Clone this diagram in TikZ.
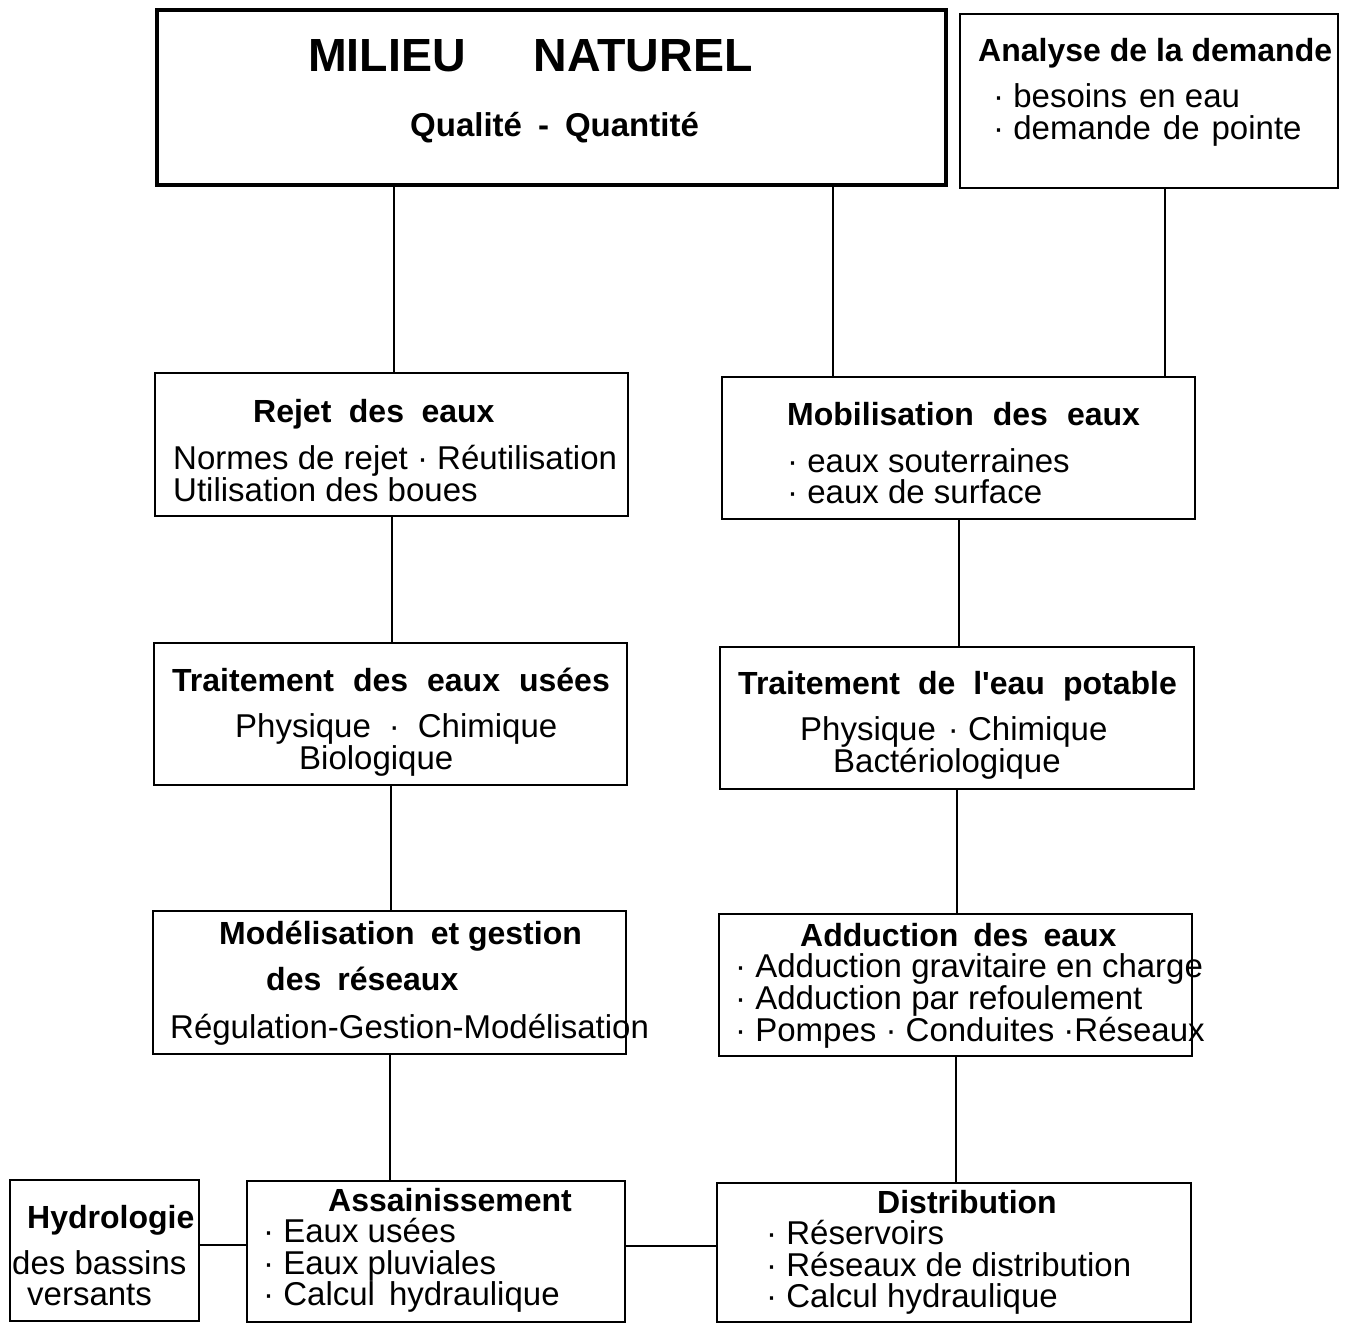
\documentclass[tikz,border=0pt]{standalone}
\usepackage{fontspec}
\setmainfont{Liberation Sans}[Ligatures=TeXOff]
\begin{document}
\begin{tikzpicture}[x=1pt,y=-1pt,
  box/.style={draw,rectangle,line width=2pt,inner sep=0pt},
  bigbox/.style={box,line width=4pt},
  txt/.style={anchor=base west,inner sep=0pt,font=\fontsize{33}{33}\selectfont},
  head/.style={anchor=base west,inner sep=0pt,font=\fontsize{32}{32}\selectfont\bfseries},
  link/.style={line width=2pt}]
\useasboundingbox[fill=white] (0,0) rectangle (1351,1324);
% boxes
\node[bigbox,minimum width=789pt,minimum height=175pt] (milieu) at (551.5,97.5) {};
\node[box,minimum width=378pt,minimum height=174pt] (analyse) at (1149,101) {};
\node[box,minimum width=473pt,minimum height=143pt] (rejet) at (391.5,444.5) {};
\node[box,minimum width=473pt,minimum height=142pt] (mob) at (958.5,448) {};
\node[box,minimum width=473pt,minimum height=142pt] (tusees) at (390.5,714) {};
\node[box,minimum width=474pt,minimum height=142pt] (tpot) at (957,718) {};
\node[box,minimum width=473pt,minimum height=143pt] (model) at (389.5,982.5) {};
\node[box,minimum width=473pt,minimum height=142pt] (adduc) at (955.5,985) {};
\node[box,minimum width=189pt,minimum height=141pt] (hydro) at (104.5,1250.5) {};
\node[box,minimum width=378pt,minimum height=141pt] (assain) at (436,1251.5) {};
\node[box,minimum width=474pt,minimum height=139pt] (distrib) at (954,1252.5) {};
% texts
\node[anchor=base west,inner sep=0pt,font=\fontsize{46.5}{46.5}\selectfont\bfseries] (t1) at (308,72) {MILIEU\hspace{68pt}NATUREL};
\node[head,font=\fontsize{33}{33}\selectfont\bfseries] (t2) at (410,137) {Qualité\hspace{16pt}-\hspace{16pt}Quantité};
\node[head] (a1) at (978,62) {Analyse de la demande};
\node[txt] (a2) at (993,108) {· besoins\hspace{12pt}en eau};
\node[txt] (a3) at (993,140) {· demande\hspace{12pt}de\hspace{12pt}pointe};
\node[head] (r1) at (253,422) {Rejet\hspace{17.5pt}des\hspace{17.5pt}eaux};
\node[txt] (r2) at (173,469) {Normes de rejet · Réutilisation};
\node[txt] (r3) at (173,501) {Utilisation des boues};
\node[head] (m1) at (787,425) {Mobilisation\hspace{19pt}des\hspace{19pt}eaux};
\node[txt] (m2) at (787,472) {· eaux souterraines};
\node[txt] (m3) at (787,503) {· eaux de surface};
\node[head] (u1) at (172,691) {Traitement\hspace{19pt}des\hspace{19pt}eaux\hspace{19pt}usées};
\node[txt] (u2) at (235,737) {Physique\hspace{18pt}·\hspace{18pt}Chimique};
\node[txt] (u3) at (299,769) {Biologique};
\node[head] (p1) at (738,694) {Traitement\hspace{18pt}de\hspace{18pt}l'eau\hspace{18pt}potable};
\node[txt] (p2) at (800,740) {Physique\hspace{12pt}· Chimique};
\node[txt] (p3) at (833,772) {Bactériologique};
\node[head] (g1) at (219,944) {Modélisation\hspace{16pt}et gestion};
\node[head] (g2) at (266,990) {des\hspace{16pt}réseaux};
\node[txt] (g3) at (170,1038) {Régulation-Gestion-Modélisation};
\node[head] (d1) at (800,946) {Adduction\hspace{15pt}des\hspace{15pt}eaux};
\node[txt] (d2) at (735,977) {· Adduction gravitaire en charge};
\node[txt] (d3) at (735,1009) {· Adduction par refoulement};
\node[txt] (d4) at (735,1041) {· Pompes · Conduites ·Réseaux};
\node[head] (h1) at (27,1228) {Hydrologie};
\node[txt] (h2) at (12,1274) {des bassins};
\node[txt] (h3) at (27,1305) {versants};
\node[head] (s1) at (328,1211) {Assainissement};
\node[txt] (s2) at (263,1242) {· Eaux usées};
\node[txt] (s3) at (263,1274) {· Eaux pluviales};
\node[txt] (s4) at (263,1305) {· Calcul\hspace{14pt}hydraulique};
\node[head] (b1) at (877,1213) {Distribution};
\node[txt] (b2) at (766,1244) {· Réservoirs};
\node[txt] (b3) at (766,1276) {· Réseaux de distribution};
\node[txt] (b4) at (766,1307) {· Calcul hydraulique};
% connectors
\draw[link] ([xshift=2.5pt]rejet.north) -- ([xshift=2.5pt]rejet.north |- milieu.south);
\draw[link] ([xshift=-125.5pt]mob.north) -- ([xshift=-125.5pt]mob.north |- milieu.south);
\draw[link] ([xshift=16pt]analyse.south) -- ([xshift=16pt]analyse.south |- mob.north);
\draw[link] (rejet.south) -- (rejet.south |- tusees.north);
\draw[link] (mob.south) -- (mob.south |- tpot.north);
\draw[link] (tusees.south) -- (tusees.south |- model.north);
\draw[link] (tpot.south) -- (tpot.south |- adduc.north);
\draw[link] (model.south) -- (model.south |- assain.north);
\draw[link] (adduc.south) -- (adduc.south |- distrib.north);
\draw[link] ([yshift=6pt]hydro.east) -- ([yshift=6pt]hydro.east -| assain.west);
\draw[link] ([yshift=6pt]assain.east) -- ([yshift=6pt]assain.east -| distrib.west);
\end{tikzpicture}
\end{document}
